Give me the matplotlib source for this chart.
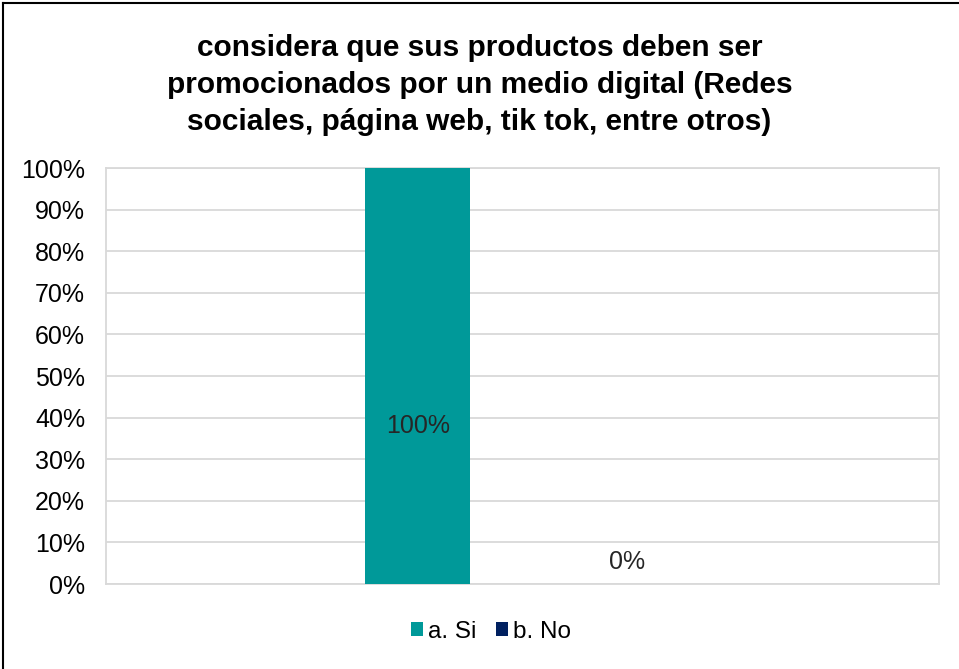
import matplotlib.pyplot as plt
import numpy as np

plt.rcParams['font.family'] = ['Liberation Sans', 'DejaVu Sans']

# Data
series = ['a. Si', 'b. No']
values = [1.00, 0.00]
labels = ['100%', '0%']
colors = ['#009999', '#002060']
yticks = np.arange(0, 1.01, 0.1)

fig = plt.figure(figsize=(9.59, 6.69), dpi=100)
ax = fig.add_axes([106 / 959, 1 - 584 / 669, 833 / 959, 416 / 669])

width = 0.126
offsets = [-0.1255, 0.1255]
for name, v, lab, c, off in zip(series, values, labels, colors, offsets):
    ax.bar(off, v, width=width, color=c, label=name, zorder=3)
    ypos = 0.38 if v > 0.5 else v + 0.053
    ax.text(off, ypos, lab, ha='center', va='center', fontsize=18, color='#262626', zorder=4)

ax.set_xlim(-0.5, 0.5)
ax.set_ylim(0, 1)
ax.set_yticks(yticks)
ax.set_yticklabels([f'{int(round(t * 100))}%' for t in yticks], fontsize=18)
ax.set_xticks([])
ax.tick_params(axis='y', length=0, pad=15)
ax.grid(axis='y', color='#d9d9d9', linewidth=1.3, zorder=0)
for s in ax.spines.values():
    s.set_color('#d9d9d9')
    s.set_linewidth(1.3)

fig.text(0.5, 1 - 85 / 669,
         'considera que sus productos deben ser\npromocionados por un medio digital (Redes\nsociales, página web, tik tok, entre otros)',
         ha='center', va='center', fontsize=21.5, fontweight='bold', linespacing=1.42)

fig.legend(loc='center', bbox_to_anchor=(491 / 959, 1 - 632 / 669), ncol=2, frameon=False,
           fontsize=17.5, handlelength=0.5, handleheight=0.5, handletextpad=0.2, columnspacing=0.8)

# outer chart border (left and top visible)
fig.add_artist(plt.Line2D([3 / 959, 3 / 959], [0, 1 - 3 / 669], transform=fig.transFigure, color='black', linewidth=1.5))
fig.add_artist(plt.Line2D([3 / 959, 1], [1 - 3 / 669, 1 - 3 / 669], transform=fig.transFigure, color='black', linewidth=1.5))

fig.savefig('out.png', dpi=100)
